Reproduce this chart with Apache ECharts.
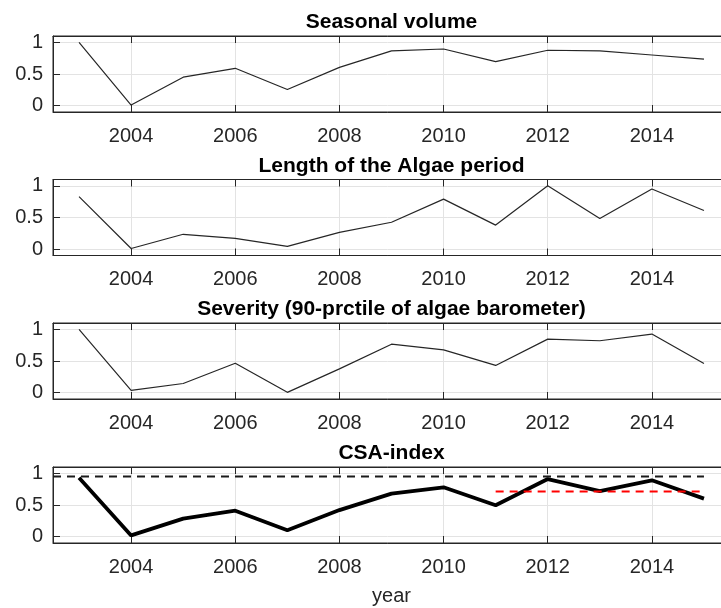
<!DOCTYPE html>
<html>
<head>
<meta charset="utf-8">
<script src="https://cdn.jsdelivr.net/npm/echarts@6/dist/echarts.min.js"></script>
<style>
html,body{margin:0;padding:0;background:#fff;}
#c{width:721px;height:608px;}
</style>
</head>
<body>
<div id="c"></div>
<script>
// ---- data ----
const years = [2003, 2004, 2005, 2006, 2007, 2008, 2009, 2010, 2011, 2012, 2013, 2014, 2015];
const seasonalVolume = [1.0, 0.01, 0.45, 0.59, 0.255, 0.605, 0.865, 0.895, 0.695, 0.875, 0.865, 0.80, 0.735];
const algaePeriodLength = [0.83, 0.01, 0.235, 0.17, 0.045, 0.265, 0.425, 0.79, 0.38, 1.0, 0.485, 0.95, 0.61];
const severity = [1.0, 0.035, 0.145, 0.465, 0.005, 0.375, 0.765, 0.675, 0.43, 0.845, 0.82, 0.925, 0.46];
const csaIndex = [0.93, 0.02, 0.285, 0.41, 0.10, 0.42, 0.68, 0.78, 0.495, 0.91, 0.72, 0.89, 0.60];
const panelTitles = ['Seasonal volume', 'Length of the Algae period', 'Severity (90-prctile of algae barometer)', 'CSA-index'];
const xTicks = [2004, 2006, 2008, 2010, 2012, 2014];
const yTicks = [0, 0.5, 1];
const xLimits = [2002.5, 2015.5];
const yLimits = [-0.1, 1.1];
const longTermLevel = 0.95;
const longTermSpan = [2002.5, 2015];
const recentLevel = 0.715;
const recentSpan = [2011, 2015];
const xLabel = 'year';

// ---- layout ----
const FONT = 'Liberation Sans, Arial, Helvetica, sans-serif';
const gridTops = [36, 179.5, 323, 467];
const gridH = 76;
const gridLeft = 53;
const gridW = 677;
const centerX = gridLeft + gridW / 2;
const axisColor = '#262626';
const gridColor = '#e3e3e3';

const chart = echarts.init(document.getElementById('c'), null, {renderer: 'canvas'});

const grids = [], xAxes = [], yAxes = [], titles = [], series = [];
const pairs = (vals) => years.map((y, i) => [y, vals[i]]);
const panelData = [seasonalVolume, algaePeriodLength, severity, csaIndex];

gridTops.forEach((top, i) => {
  grids.push({left: gridLeft, width: gridW, top: top, height: gridH,
    outerBoundsMode: 'none', containLabel: false,
    show: true, borderColor: axisColor, borderWidth: 1, backgroundColor: 'transparent'});
  xAxes.push({
    type: 'value', gridIndex: i, position: 'bottom', min: xLimits[0], max: xLimits[1],
    axisLine: {show: true, onZero: false, lineStyle: {color: axisColor, width: 1}},
    axisTick: {show: true, inside: true, length: 7, customValues: xTicks, lineStyle: {color: axisColor}},
    axisLabel: {show: true, customValues: xTicks, margin: 14, color: axisColor, fontSize: 20, fontFamily: FONT,
      formatter: v => String(v)},
    splitLine: {show: true, lineStyle: {color: gridColor, width: 1}}
  });
  xAxes.push({
    type: 'value', gridIndex: i, position: 'top', min: xLimits[0], max: xLimits[1],
    axisLine: {show: true, onZero: false, lineStyle: {color: axisColor, width: 1}},
    axisTick: {show: true, inside: true, length: 7, customValues: xTicks, lineStyle: {color: axisColor}},
    axisLabel: {show: false},
    splitLine: {show: false}
  });
  yAxes.push({
    type: 'value', gridIndex: i, min: yLimits[0], max: yLimits[1],
    axisLine: {show: true, onZero: false, lineStyle: {color: axisColor, width: 1}},
    axisTick: {show: true, inside: true, length: 7, customValues: yTicks, lineStyle: {color: axisColor}},
    axisLabel: {show: true, customValues: yTicks, margin: 10, color: axisColor, fontSize: 20, fontFamily: FONT,
      formatter: v => String(v)},
    splitLine: {show: true, lineStyle: {color: gridColor, width: 1}}
  });
  titles.push({
    text: panelTitles[i], left: centerX, top: top - 24.2, padding: 0, textAlign: 'center',
    textStyle: {fontFamily: FONT, fontSize: 21, fontWeight: 'bold', color: '#000'}
  });
  const isCsa = i === 3;
  series.push({
    type: 'line', xAxisIndex: i * 2, yAxisIndex: i, data: pairs(panelData[i]),
    symbol: 'none', showSymbol: false, silent: true, z: 3,
    lineStyle: {color: isCsa ? '#000' : '#262626', width: isCsa ? 3.8 : 1.2}
  });
});

series.push({
  type: 'line', xAxisIndex: 6, yAxisIndex: 3, symbol: 'none', silent: true, z: 4,
  data: [[longTermSpan[0], longTermLevel], [longTermSpan[1], longTermLevel]],
  lineStyle: {color: '#1a1a1a', width: 2, type: [8, 6]}
});
series.push({
  type: 'line', xAxisIndex: 6, yAxisIndex: 3, symbol: 'none', silent: true, z: 4,
  data: [[recentSpan[0], recentLevel], [recentSpan[1], recentLevel]],
  lineStyle: {color: '#ff0000', width: 2, type: [8, 6]}
});

titles.push({
  text: xLabel, left: centerX, top: 586, padding: 0, textAlign: 'center',
  textStyle: {fontFamily: FONT, fontSize: 20, fontWeight: 'normal', color: axisColor}
});

chart.setOption({
  animation: false,
  backgroundColor: '#fff',
  title: titles,
  grid: grids,
  xAxis: xAxes,
  yAxis: yAxes,
  series: series
});
</script>
</body>
</html>
